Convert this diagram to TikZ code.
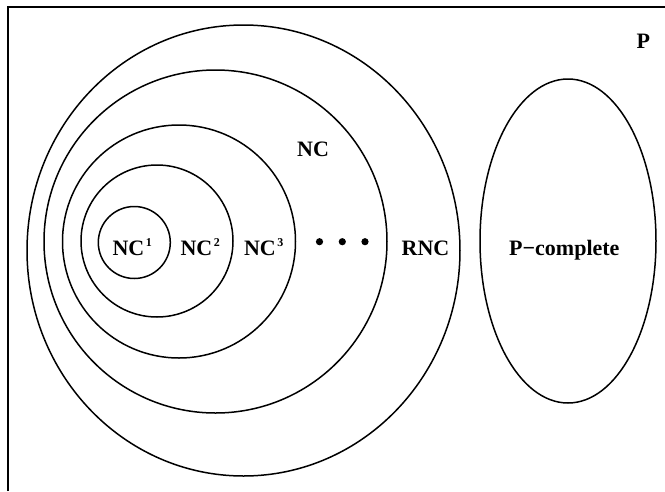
\documentclass[tikz,border=0pt]{standalone}
\usepackage{fontspec}
\setmainfont{Liberation Serif}
\newcommand\ncsup[1]{\hspace{1.6pt}\raisebox{8.2pt}{\fontsize{12}{13}\selectfont #1}}
\begin{document}
\begin{tikzpicture}[x=1pt,y=-1pt,
  ring/.style={line width=1.5pt},
  frame/.style={line width=2pt},
  lab/.style={font=\fontsize{22}{26}\selectfont\bfseries, inner sep=0pt, anchor=base west},
  dotfill/.style={fill=black, draw=none}]
\useasboundingbox (0,0) rectangle (665,491);
% frame (cropped)
\draw[frame] (8.3,491) -- (8.3,6.5) -- (665,6.5);
% nested classes
\draw[ring] (243.5,250.5) ellipse [x radius=216.5pt, y radius=225.5pt];
\draw[ring] (215.5,241.5) circle (171.5pt);
\draw[ring] (179,241.5) circle (116.5pt);
\draw[ring] (157,241) circle (76pt);
\draw[ring] (134.3,242.5) circle (36pt);
% P-complete
\draw[ring] (568,241) ellipse [x radius=88pt, y radius=162pt];
% dots
\fill[dotfill] (319.5,241.7) circle (3.6pt);
\fill[dotfill] (342.3,241.7) circle (3.6pt);
\fill[dotfill] (365,241.7) circle (3.6pt);
% labels
\node[lab] (nc1) at (112.3,255) {NC\ncsup{1}};
\node[lab] (nc2) at (180.3,255) {NC\ncsup{2}};
\node[lab] (nc3) at (243.8,255) {NC\ncsup{3}};
\node[lab] (nc) at (297,156) {NC};
\node[lab] (rnc) at (401.5,255) {RNC};
\node[lab] (pc) at (509,255) {P−complete};
\node[lab] (p) at (636.5,48.3) {P};
\end{tikzpicture}
\end{document}
